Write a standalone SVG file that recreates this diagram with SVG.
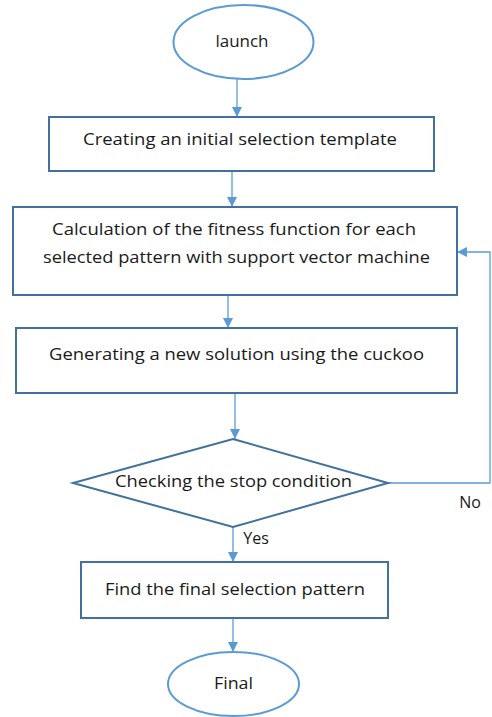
<svg xmlns="http://www.w3.org/2000/svg" width="492" height="717" viewBox="0 0 492 717">
<defs>
<marker id="ah" viewBox="0 0 10 10" refX="10" refY="5" markerWidth="10" markerHeight="10" markerUnits="userSpaceOnUse" orient="auto">
<path d="M0,0 L10,5 L0,10 z" fill="#5B9BD5"/>
</marker>
<style>
.box{fill:#fff;stroke:#41719C;stroke-width:2}
.ell{fill:#fff;stroke:#5B9BD5;stroke-width:2}
.t{font-family:"Open Sans","Liberation Sans",sans-serif;font-size:16px;fill:#1a1a1a;text-anchor:middle}
.c{fill:none;stroke:#5B9BD5;stroke-width:1.3}
</style>
</defs>
<rect width="492" height="717" fill="#fff"/>
<g id="connectors">
<path class="c" d="M237,79 V117" marker-end="url(#ah)"/>
<path class="c" d="M232,171 V207" marker-end="url(#ah)"/>
<path class="c" d="M228,295 V328" marker-end="url(#ah)"/>
<path class="c" d="M235,393 V439" marker-end="url(#ah)"/>
<path class="c" d="M233,527 V562" marker-end="url(#ah)"/>
<path class="c" d="M233,618 V652" marker-end="url(#ah)"/>
<path class="c" d="M388,483 H490 V252 H457" marker-end="url(#ah)"/>
<text class="t" x="470" y="508">No</text>
<text class="t" x="256" y="544">Yes</text>
</g>
<g id="launch">
<ellipse class="ell" cx="243.5" cy="42" rx="70" ry="37"/>
<text class="t" x="242" y="47" textLength="53" lengthAdjust="spacingAndGlyphs">launch</text>
</g>
<g id="create">
<rect class="box" x="49" y="117" width="385" height="54"/>
<text class="t" x="240" y="145" textLength="314" lengthAdjust="spacingAndGlyphs">Creating an initial selection template</text>
</g>
<g id="fitness">
<rect class="box" x="13" y="207" width="444" height="88"/>
<text class="t" x="234" y="235" textLength="364" lengthAdjust="spacingAndGlyphs">Calculation of the fitness function for each</text>
<text class="t" x="236.5" y="263" textLength="387" lengthAdjust="spacingAndGlyphs">selected pattern with support vector machine</text>
</g>
<g id="generate">
<rect class="box" x="16" y="328" width="441" height="65"/>
<text class="t" x="236.5" y="360" textLength="375" lengthAdjust="spacingAndGlyphs">Generating a new solution using the cuckoo</text>
</g>
<g id="check">
<polygon class="box" points="233,439 388,483 233,527 73,483"/>
<text class="t" x="233.5" y="487" textLength="237" lengthAdjust="spacingAndGlyphs">Checking the stop condition</text>
</g>
<g id="find">
<rect class="box" x="81" y="562" width="307" height="56"/>
<text class="t" x="235" y="595" textLength="260" lengthAdjust="spacingAndGlyphs">Find the final selection pattern</text>
</g>
<g id="final">
<ellipse class="ell" cx="233.5" cy="684" rx="65.5" ry="32"/>
<text class="t" x="233.5" y="689" textLength="39" lengthAdjust="spacingAndGlyphs">Final</text>
</g>
</svg>
